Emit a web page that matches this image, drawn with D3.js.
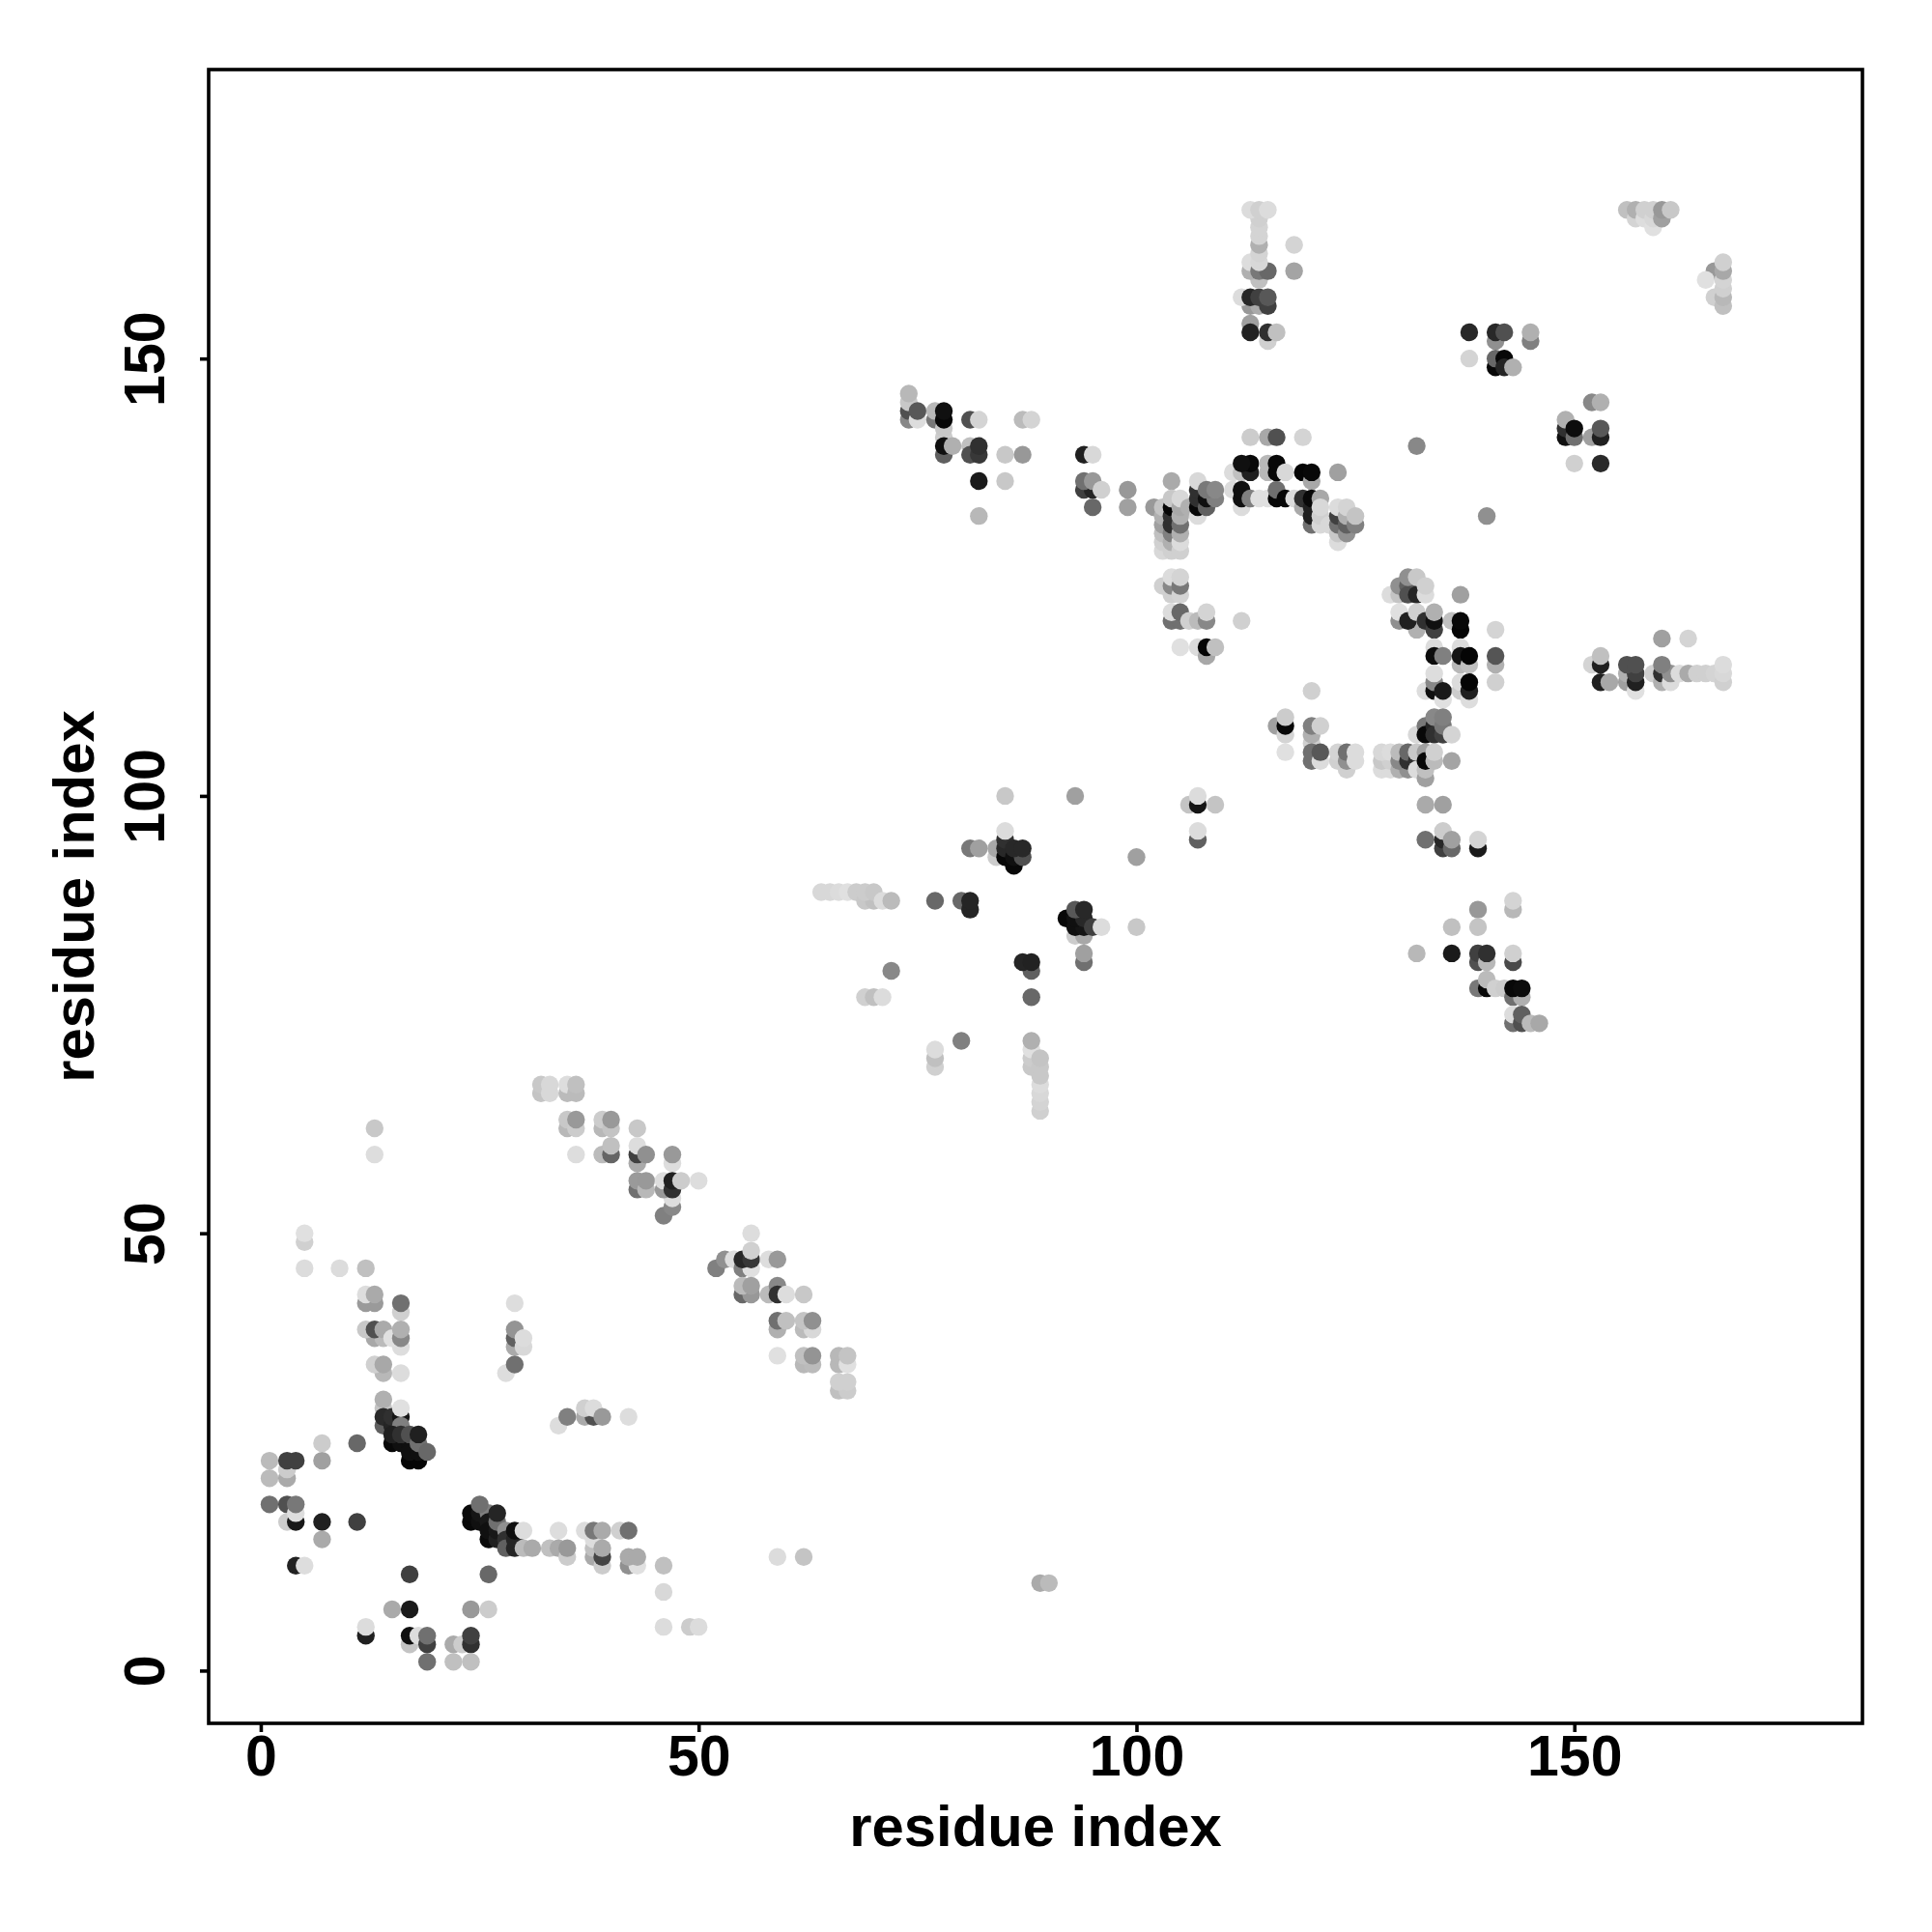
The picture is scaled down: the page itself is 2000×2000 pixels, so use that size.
<!DOCTYPE html>
<html>
<head>
<meta charset="utf-8">
<script src="https://cdn.jsdelivr.net/npm/d3@7"></script>
<style>
html,body{margin:0;padding:0;background:#fff}
svg{display:block}
text{font-family:"Liberation Sans",Arial,sans-serif;font-weight:700;fill:#000}
</style>
</head>
<body>
<svg id="chart" width="2000" height="2000"></svg>
<script>
// [residue i, residue j, grey level], listed in drawing order
const cornerContacts = [
[1,24,0xbb],[1,22,0xbb],[3,22,0xaa],[3,23,0xcc],[3,24,0x40],[4,24,0x40],[7,24,0xa0],[7,26,0xcc],[11,26,0x68],
[1,19,0x70],[3,19,0x50],[3,17,0xcc],[4,17,0x18],[4,18,0xdd],[4,19,0x78],[7,17,0x20],[11,17,0x40],[7,15,0xaa],
[4,12,0x22],[5,12,0xdd]
];
const upperStrandA = [
[5,49,0xd0],[5,50,0xe0],[5,46,0xdc],[9,46,0xdc],[12,46,0xc0],
[12,42,0x9a],[13,42,0x9a],[12,43,0xdd],[13,43,0xaa],[16,41,0xd0],[16,42,0x70],
[16,37,0xdd],[13,38,0xa8],[14,38,0xbb],[12,39,0xc8],[13,39,0x50],[14,39,0xaa],[15,38,0xe0],[16,38,0x88],[16,39,0xb0],
[14,34,0xb8],[13,35,0xd0],[14,35,0xa8],[16,34,0xdc],
[14,30,0xc4],[14,31,0xb0],[14,28,0x60],[14,29,0x2a],[15,28,0x25],[15,29,0x30],[16,29,0x15],[16,30,0xe0],[16,28,0x80],
[15,26,0x08],[16,26,0x10],[15,27,0x20],[17,26,0x10],[17,24,0x05],[18,24,0x05],[17,25,0x10],[18,25,0x10],[16,27,0x30],[17,27,0x50],[18,26,0x70],[18,27,0x20],[19,25,0x68]
];
const diagonalB = [
[24,17,0x08],[24,18,0x0a],[25,17,0x10],[25,18,0x15],[26,18,0x80],[25,19,0x70],[26,17,0x18],[26,15,0x0a],[26,16,0x10],[27,15,0x20],[27,16,0x18],[27,17,0x70],[27,18,0x25],
[28,16,0x90],[28,15,0x30],[28,14,0x60],[29,14,0x25],[29,15,0x25],[29,16,0x10],[30,16,0xdd],[30,14,0xbb],[31,14,0xaa]
];
const lowerContacts = [
[12,4,0x20],[12,5,0xdc],[17,3,0xc4],[17,4,0x10],[18,4,0xdd],[19,3,0x40],[19,4,0x70],[22,3,0xaa],[23,3,0xcc],[24,3,0x30],[24,4,0x40],
[19,1,0x70],[22,1,0xc0],[24,1,0xc0],[15,7,0xaa],[17,7,0x1a],[24,7,0x99],[26,7,0xcc],[17,11,0x40],[26,11,0x68],
[46,5,0xdc],[49,5,0xcc],[50,5,0xdc],[46,9,0xd8],[46,12,0xc0],[59,13,0xdc],[62,13,0xc4],[89,10,0xaa],[90,10,0xbb]
];
const farContacts = [
[34,16,0xdd],[33,14,0xc0],[34,14,0xaa],[35,13,0xcc],[35,14,0x99],[37,16,0xdd],[38,13,0xaa],[38,14,0xc0],[38,15,0xdd],[38,16,0x78],[39,12,0xcc],[39,13,0x45],[39,14,0xaa],[39,16,0xaa],[41,16,0xd0],[42,16,0x70],
[42,12,0x90],[43,12,0xe0],[42,13,0xaa],[43,13,0xaa],
[29,37,0xaa],[29,38,0x60],[29,39,0x94],[30,37,0xd8],[30,38,0xdc],[29,42,0xdd],[28,34,0xdd],[29,35,0x70],
[34,28,0xdd],[35,29,0x80],[37,29,0xaa],[38,29,0x50],[37,30,0xd0],[38,30,0xdc],[39,29,0x99],[42,29,0xdd],
[13,62,0xc8],[13,59,0xdd]
];
const strandC = [
[32,66,0xc4],[32,67,0xc8],[33,66,0xd8],[33,67,0xd8],[35,66,0xbb],[35,67,0xdd],[36,66,0xbb],[36,67,0xc0],
[35,62,0xb8],[35,63,0xc8],[36,62,0xcc],[36,63,0x99],[36,59,0xdd],[39,62,0xb8],[39,63,0xcc],[40,62,0xc4],[40,63,0x99],[43,62,0xc8],
[39,59,0xbb],[40,59,0x65],[40,60,0xc0],[43,58,0xaa],[43,59,0x40],[43,60,0xdd],[44,59,0x90],[47,58,0xdd],[47,59,0x99],
[43,55,0x70],[43,56,0x9a],[44,55,0xb8],[44,56,0x99],[46,52,0x80],[47,53,0x88],[47,54,0xdd],[46,55,0x99],[46,56,0xdd],[47,55,0x30],[47,56,0x20],[48,56,0xcc],[50,56,0xdd]
];
const strandD = [
[52,46,0x80],[53,47,0x90],[54,47,0xdd],[55,46,0x80],[56,46,0xe0],[55,47,0x28],[56,47,0x38],[56,48,0xd0],[56,50,0xdd],[58,47,0xdd],[59,47,0x99],
[55,43,0x68],[56,43,0x98],[55,44,0xbb],[56,44,0xa0],[58,43,0xbb],[59,44,0x88],[59,43,0x30],[60,43,0xdd],[62,43,0xc8],
[59,39,0xb0],[59,40,0x70],[60,40,0xc0],[62,39,0xbb],[63,39,0xd8],[62,40,0xc4],[63,40,0x90],
[59,36,0xe0],[62,35,0xb8],[63,35,0xbb],[62,36,0xc0],[63,36,0x94],[66,35,0xb8],[66,36,0xb8],[67,35,0xe0],[67,36,0xc4],
[66,32,0xc0],[67,32,0xcc],[66,33,0xd0],[67,33,0xd0]
];
const centreContacts = [
[64,89,0xd8],[65,89,0xd8],[66,89,0xdc],[67,89,0xe0],[68,89,0xcc],[69,88,0xc8],[70,88,0xc0],[69,89,0xcc],[70,89,0xc8],[71,88,0xdc],[72,88,0xbb],
[77,88,0x68],[80,88,0x68],[81,87,0x25],[81,88,0x25],[72,80,0x88],[69,77,0xd0],[70,77,0xc0],[71,77,0xdc],
[77,69,0xd0],[77,70,0xc0],[77,71,0xdc],[80,72,0x80],[88,69,0xc8],[88,70,0xcc],[88,71,0xe0],[88,72,0xb0],
[89,64,0xd0],[89,65,0xd4],[89,66,0xd8],[89,67,0xdc],[89,68,0xc8],[89,69,0xc8],[89,70,0xc4],
[88,77,0x68],[88,80,0x60],[87,81,0x25],[88,81,0x22],
[81,94,0x78],[82,94,0xa0],[84,93,0xcc],[84,94,0xa8],[85,93,0x08],[85,94,0x28],[85,95,0x30],[85,96,0xdc],[86,92,0x08],[86,93,0x10],[87,93,0x50],[86,94,0x28],[87,94,0x28],[85,100,0xc8],
[93,100,0xa0],[100,93,0xa0],[100,85,0xc8],
[93,84,0xcc],[94,84,0xa8],[92,86,0x08],[93,85,0x10],[94,85,0x15],[93,86,0x10],[94,86,0x28],[93,87,0x58],[94,87,0x28],[95,85,0x40],[96,85,0xdc],[94,81,0x70],[94,82,0xa0],
[106,99,0xc4],[107,99,0x15],[107,100,0xdc],[109,99,0xc4],[107,95,0x60],[107,96,0xdc]
];
const topLeftContacts = [
[74,143,0x88],[74,144,0x50],[74,145,0xc8],[74,146,0xb8],[75,143,0xdd],[75,144,0x58],[77,143,0x78],[77,144,0xb8],[78,141,0xcc],[78,142,0xc8],[78,143,0x08],[78,144,0x10],
[78,139,0x60],[78,140,0x10],[79,140,0xb0],[81,140,0xc0],[81,139,0x50],[82,139,0x38],[82,140,0x30],[81,143,0x50],[82,143,0xd4],[85,139,0xc8],[87,139,0x98],[87,143,0xbb],[88,143,0xd4],
[82,136,0x1a],[85,136,0xc8],[82,132,0xb8],
[94,139,0x20],[95,139,0xd8],[94,135,0x40],[95,135,0x25],[94,136,0x70],[95,136,0x98],[96,135,0xd0],[95,133,0x68],[99,135,0x98],[99,133,0xa0],[102,133,0x99],[104,136,0xaa]
];
const verticalStrip = [
[103,128,0xd8],[103,129,0xd0],[103,130,0xc0],[103,131,0xa0],[103,132,0xb0],[103,133,0xc4],
[104,128,0xd0],[104,129,0xb0],[104,130,0x80],[104,131,0x30],[104,132,0x30],[104,133,0x05],[104,134,0xc8],
[105,128,0xd0],[105,129,0xdc],[105,130,0xb0],[105,131,0x70],[105,132,0xb0],[105,133,0xa8],[105,134,0xd8],[106,133,0xb0],
[103,124,0xd0],[104,123,0xd0],[104,124,0x88],[104,125,0xdc],[105,123,0xd4],[105,124,0x78],[105,125,0xd4],
[104,120,0x70],[105,120,0x70],[104,121,0xdc],[105,121,0x68],[106,120,0xd0],[107,120,0xbb],[108,120,0x88],[108,121,0xd4],[112,120,0xd0],
[105,117,0xe0],[107,117,0xdc],[108,116,0xa8],[108,117,0x05],[109,117,0xc0],
[107,132,0xdc],[107,133,0x08],[107,134,0x30],[107,135,0x30],[107,136,0xd8],[108,133,0x60],[108,134,0x10],[109,134,0x80],[108,135,0x78],[109,135,0x88]
];
const arcContacts = [
[111,135,0xdc],[111,137,0xdc],[112,133,0xdc],[112,137,0xc0],[112,134,0x10],[112,135,0x10],[113,134,0x80],[113,137,0x20],[113,138,0x08],[112,138,0x10],[114,134,0xe0],[115,134,0xe0],
[115,137,0xb8],[115,138,0xb8],[116,134,0x08],[116,135,0x70],[116,137,0x08],[116,138,0x08],[117,134,0x08],[117,137,0xd8],[118,134,0xdc],[113,141,0xcc],[115,141,0xa8],[116,141,0x50],[119,141,0xd4],
[119,133,0xaa],[119,134,0x30],[119,137,0x05],[120,136,0xa8],[120,137,0x08],[120,131,0x70],[120,132,0x20],[120,133,0x20],[120,134,0x08],[121,134,0xa8],[123,137,0xa0],
[121,131,0xd8],[121,132,0xd0],[121,133,0xd8],[122,131,0xd8],
[123,129,0xdc],[123,130,0xc8],[123,131,0x70],[123,132,0x40],[123,133,0xdc],[124,130,0x90],[124,131,0x60],[124,132,0xb0],[124,133,0xd4],[125,131,0x80],[125,132,0xc4]
];
const topContacts = [
[113,154,0xa0],[113,153,0x22],[115,152,0xd0],[115,153,0x30],[116,153,0xc0],
[113,156,0x98],[114,156,0xaa],[115,156,0x40],[112,157,0xdc],[113,157,0x28],[114,157,0x40],[115,157,0x58],
[114,159,0xc0],[113,160,0xb0],[113,161,0xdd],[114,160,0x78],[115,160,0x68],[114,161,0xd8],[114,162,0xd4],[114,163,0xb0],[114,164,0xd4],[114,165,0xd4],[114,166,0xd0],[113,167,0xdc],[114,167,0xd0],[115,167,0xdc],[118,160,0xa4],[118,163,0xd4],
[138,153,0x28],[138,150,0xd4],[141,152,0x90],[141,153,0x28],[142,153,0x50],[145,152,0x80],[145,153,0xb0],[141,149,0x08],[141,150,0x68],[142,150,0x08],[142,149,0x25],[143,149,0xb0],
[156,167,0xc0],[157,166,0xd4],[157,167,0xb0],[158,166,0xdd],[158,167,0xd0],[159,165,0xe0],[159,166,0xd8],[159,167,0xd0],[160,166,0xa0],[160,167,0x98],[161,167,0xc8],
[166,160,0x98],[165,159,0xe0],[166,157,0xd0],[167,156,0xc0],[167,157,0xb8],[167,158,0xd0],[167,159,0xd4],[167,160,0xa8],[167,161,0xd0]
];
const rightContacts = [
[152,145,0x88],[153,145,0xb0],[149,141,0x10],[149,142,0x30],[149,143,0xb0],[150,141,0x70],[150,142,0x0c],[152,141,0xa0],[153,141,0x20],[153,142,0x58],[150,138,0xd0],[153,138,0x2a],
[132,140,0x88],[140,132,0x90],
[152,115,0xd4],[153,115,0x20],[153,116,0xc0],[153,113,0x20],[154,113,0xa8],[156,113,0xa0],[156,114,0xb0],[157,112,0xe0],[157,113,0x20],[157,114,0x40],[156,115,0x50],[157,115,0x50],
[159,114,0xd0],[160,113,0xb0],[160,114,0x30],[161,113,0xdc],[161,114,0x90],[160,115,0x80],[162,114,0xdc],[163,114,0xaa],[164,114,0xd0],[165,114,0xd0],[166,114,0xd4],[167,113,0xd0],[167,114,0xd8],[167,115,0xdc],[160,118,0xa0],[163,118,0xd4]
];
const helixCluster = [
[129,123,0xdc],[130,123,0xc4],[130,124,0x90],[131,124,0x60],[131,123,0x50],[131,125,0x90],[132,123,0x25],[132,125,0xc8],[133,123,0xdc],[133,124,0xd0],[137,123,0xa0],
[130,120,0x90],[130,121,0xe0],[132,119,0xb0],[131,120,0x20],[132,121,0xd0],[133,120,0x30],[134,119,0x40],[134,120,0x10],[134,121,0xb0],[136,120,0xc0],[137,119,0x05],[137,120,0x08],[141,119,0xd4],
[134,117,0xdc],[134,116,0x0c],[135,116,0x80],[137,115,0xb8],[137,117,0xdc],[137,116,0x15],[138,115,0xc0],[138,116,0x05],[141,115,0xb0],[141,116,0x55],
[133,112,0xdd],[134,112,0x10],[134,113,0x88],[134,114,0xdd],[135,111,0xe0],[135,112,0x1a],[137,112,0xcc],[137,113,0xdc],[138,111,0xdd],[138,112,0x20],[138,113,0x05],[141,113,0xd0],
[132,107,0xd8],[133,108,0x78],[133,107,0x08],[134,108,0x25],[134,107,0x30],[135,107,0x40],[134,109,0x88],[135,108,0x78],[135,109,0x80],[136,107,0xd4],
[128,103,0xdc],[129,103,0xdc],[128,104,0xc8],[129,104,0xd0],[128,105,0xd8],[129,105,0xdc],[130,103,0xb0],[131,103,0x90],[130,104,0x88],[130,105,0xbb],[131,104,0x30],[131,105,0x68],[132,104,0x30],[132,105,0xc8],[132,103,0xdc],
[133,102,0xa0],[133,103,0xc0],[133,105,0xa0],[133,104,0x08],[134,104,0xbb],[134,105,0xd0],[136,104,0xa4],
[120,106,0xd0],[120,107,0xb0],[120,108,0x80],[121,108,0xd0],[120,104,0x70],[120,105,0x70],[121,104,0xdc],[121,105,0x58],[120,112,0xd0],
[116,108,0xa0],[117,107,0xd4],[117,108,0x08],[117,109,0xcc],[117,105,0xe0],
[124,103,0xd0],[123,104,0xd0],[123,105,0xd4],[124,104,0x90],[124,105,0x70],[125,104,0xdc],[125,105,0xdc]
];
const lowerRightContacts = [
[133,99,0xaa],[135,99,0xa0],[133,95,0x70],[135,94,0x40],[135,95,0x28],[135,96,0xcc],[136,94,0x68],[136,95,0xa0],[139,94,0x1a],[139,95,0xd4],
[143,87,0xb8],[143,88,0xd4],[139,87,0x98],[136,85,0xc0],[139,85,0xc4],
[132,82,0xb8],[136,82,0x1a],[139,81,0x50],[139,82,0x40],[140,81,0xb8],[140,82,0x30],[143,81,0x4a],[143,82,0xd0],
[139,78,0x78],[140,78,0x08],[140,79,0xbb],[141,78,0xd0],[142,78,0xcc],[143,77,0x70],[144,77,0xb0],[143,78,0x08],[144,78,0x0c],
[143,74,0x70],[143,75,0xdc],[144,74,0x50],[144,75,0x60],[145,74,0xbb],[146,74,0xa8]
];

const xTickValues = [0, 50, 100, 150];
const yTickValues = [0, 50, 100, 150];
const xAxisTitle = "residue index";
const yAxisTitle = "residue index";

const contacts = [].concat(cornerContacts, upperStrandA, diagonalB, lowerContacts, farContacts, strandC, strandD,
  centreContacts, topLeftContacts, verticalStrip, arcContacts, topContacts, rightContacts, helixCluster, lowerRightContacts);

const plotLeft = 216, plotRight = 1928, plotTop = 72, plotBottom = 1784;
const xScale = d3.scaleLinear().domain([-5.95, 182.9]).range([plotLeft, plotRight]);
const yScale = d3.scaleLinear().domain([-6.03, 183.04]).range([plotBottom, plotTop]);

const svg = d3.select("#chart");
svg.append("rect").attr("width", 2000).attr("height", 2000).attr("fill", "#fff");

svg.append("g").selectAll("circle").data(contacts).join("circle")
  .attr("cx", d => xScale(d[0]))
  .attr("cy", d => yScale(d[1]))
  .attr("r", 9.2)
  .attr("fill", d => d3.rgb(d[2], d[2], d[2]));

svg.append("rect").attr("x", plotLeft).attr("y", plotTop).attr("width", plotRight - plotLeft).attr("height", plotBottom - plotTop)
  .attr("fill", "none").attr("stroke", "#000").attr("stroke-width", 3.6);

const xAxis = svg.append("g").attr("transform", `translate(0,${plotBottom})`)
  .call(d3.axisBottom(xScale).tickValues(xTickValues).tickSize(9).tickFormat(d3.format("d")));
xAxis.select(".domain").remove();
xAxis.selectAll("line").attr("stroke", "#000").attr("stroke-width", 3.6);
xAxis.selectAll("text").attr("y", 0).attr("dy", 0)
  .attr("transform", "translate(0,54)").style("font-size", "59px").attr("text-anchor", "middle");

const yAxis = svg.append("g").attr("transform", `translate(${plotLeft},0)`)
  .call(d3.axisLeft(yScale).tickValues(yTickValues).tickSize(9).tickFormat(d3.format("d")));
yAxis.select(".domain").remove();
yAxis.selectAll("line").attr("stroke", "#000").attr("stroke-width", 3.6);
yAxis.selectAll("text").attr("x", 0).attr("y", 0).attr("dy", 0).attr("text-anchor", "middle")
  .attr("transform", "translate(-46,0) rotate(-90)").style("font-size", "59px");

svg.append("text").attr("x", (plotLeft + plotRight) / 2).attr("y", 1911).attr("text-anchor", "middle")
  .style("font-size", "59.8px").text(xAxisTitle);
svg.append("text").attr("transform", `translate(97,${(plotTop + plotBottom) / 2}) rotate(-90)`).attr("text-anchor", "middle")
  .style("font-size", "59.8px").text(yAxisTitle);
</script>
</body>
</html>
